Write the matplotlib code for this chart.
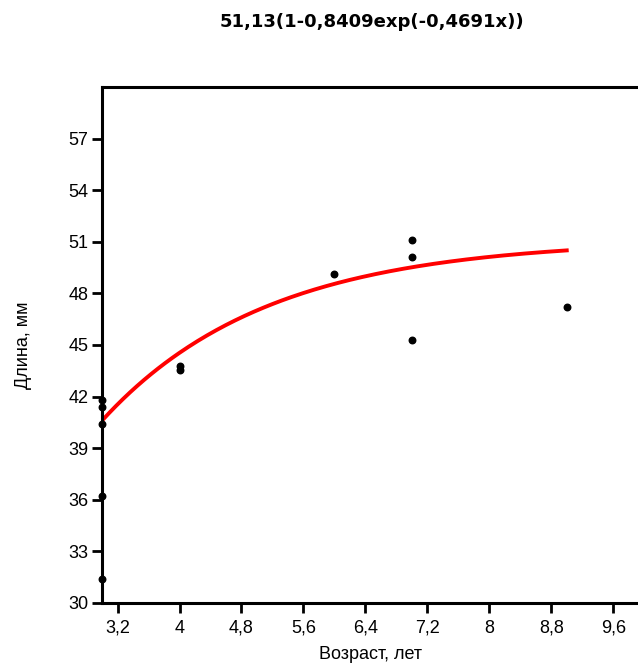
import numpy as np
import matplotlib.pyplot as plt

plt.rcParams['font.family'] = ['Liberation Sans', 'DejaVu Sans']

# data points (age, length)
age = [3, 3, 3, 3, 3, 4, 4, 6, 7, 7, 7, 9]
length = [31.4, 36.2, 40.4, 41.4, 41.8, 43.55, 43.8, 49.15, 45.3, 50.1, 51.1, 47.2]

# fitted growth curve parameters
L_inf = 51.13
b = 0.8409
k = 0.4691

x_ticks = [3.2, 4, 4.8, 5.6, 6.4, 7.2, 8, 8.8, 9.6]
y_ticks = [30, 33, 36, 39, 42, 45, 48, 51, 54, 57]

fig = plt.figure(figsize=(6.38, 6.64), dpi=100)
ax = fig.add_axes([0.16, 0.0919, 0.84, 0.7771])

xs = np.linspace(3, 9, 200)
ax.plot(xs, L_inf * (1 - b * np.exp(-k * xs)), color='#ff0000', lw=2.8, zorder=2)
ax.scatter(age, length, s=22, color='black', zorder=3, clip_on=False)

ax.set_xlim(3, 9.92)
ax.set_ylim(30, 60)
ax.set_xticks(x_ticks)
ax.set_xticklabels([str(t).replace('.', ',') for t in x_ticks])
ax.set_yticks(y_ticks)

ax.spines['right'].set_visible(False)
for s in ['left', 'bottom', 'top']:
    ax.spines[s].set_linewidth(2.2)
ax.tick_params(axis='y', length=7, width=2, labelsize=13, pad=3)
ax.tick_params(axis='x', length=7, width=2, labelsize=13, pad=5)

ax.set_xlabel('Возраст, лет', fontsize=13, labelpad=7)
ax.set_ylabel('Длина, мм', fontsize=13, labelpad=26)

fig.text(0.583, 0.967, '51,13(1-0,8409exp(-0,4691x))', ha='center', va='center',
         fontsize=13, fontweight='bold', family='DejaVu Sans')

fig.savefig('out.png', dpi=100)
